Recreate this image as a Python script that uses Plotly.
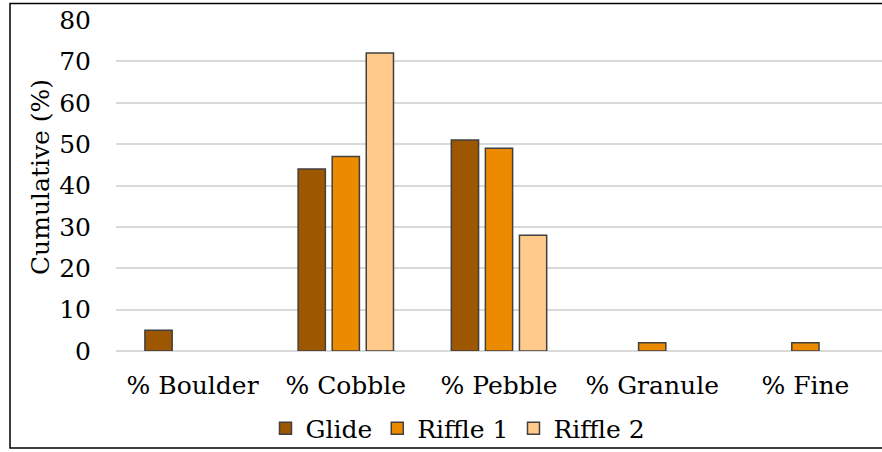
import plotly.graph_objects as go

# Substrate composition by site (percent of count per size class)
categories = ["% Boulder", "% Cobble", "% Pebble", "% Granule", "% Fine"]
glide = [5, 44, 51, 0, 0]
riffle_1 = [0, 47, 49, 2, 2]
riffle_2 = [0, 72, 28, 0, 0]

y_ticks = [0, 10, 20, 30, 40, 50, 60, 70, 80]

series = [
    ("Glide", glide, "#9C5700"),
    ("Riffle 1", riffle_1, "#ED8B00"),
    ("Riffle 2", riffle_2, "#FFCA8A"),
]

W, H = 882, 452
M_L, M_R, M_T, M_B = 116, 0, 20, 99
plot_w = W - M_L - M_R
plot_h = H - M_T - M_B

def px_x(px):
    return (px - M_L) / plot_w

def px_y(py):
    return (H - M_B - py) / plot_h

FONT = "DejaVu Serif"
FS = 25

fig = go.Figure()
for name, vals, color in series:
    # empty size classes are left out so no outline is drawn for them
    fig.add_trace(go.Bar(
        x=categories, y=[v if v else None for v in vals], name=name,
        marker=dict(color=color, line=dict(color="#404040", width=1.5)),
    ))

fig.update_layout(
    width=W, height=H,
    margin=dict(l=M_L, r=M_R, t=M_T, b=M_B),
    paper_bgcolor="white", plot_bgcolor="white",
    barmode="group", bargap=0.333, bargroupgap=0.2,
    font=dict(family=FONT, size=FS, color="black"),
    showlegend=True,
    legend=dict(
        orientation="h", x=px_x(458), xanchor="center",
        y=px_y(431), yanchor="middle",
        font=dict(family=FONT, size=FS, color="black"),
        bgcolor="rgba(0,0,0,0)", itemwidth=30,
    ),
    xaxis=dict(
        showgrid=False, showline=False, zeroline=False,
        ticks="", ticklabelstandoff=17,
        tickfont=dict(family=FONT, size=FS, color="black"),
    ),
    yaxis=dict(
        range=[0, 80], tickvals=y_ticks,
        showgrid=True, gridcolor="#D9D9D9", gridwidth=1.5,
        zeroline=True, zerolinecolor="#D9D9D9", zerolinewidth=1.5,
        showline=False, ticks="", ticklabelstandoff=24,
        tickfont=dict(family=FONT, size=FS, color="black"),
    ),
    annotations=[dict(
        text="Cumulative (%)", textangle=-90,
        xref="paper", yref="paper", x=px_x(40), y=px_y(178),
        xanchor="center", yanchor="middle", showarrow=False,
        font=dict(family=FONT, size=FS, color="black"),
    )],
    shapes=[dict(
        type="rect", xref="paper", yref="paper",
        x0=px_x(10), x1=px_x(890), y0=px_y(450.5), y1=px_y(3.5),
        line=dict(color="black", width=1.5), fillcolor="rgba(0,0,0,0)",
        layer="above",
    )],
)

fig.write_html("out.html")
